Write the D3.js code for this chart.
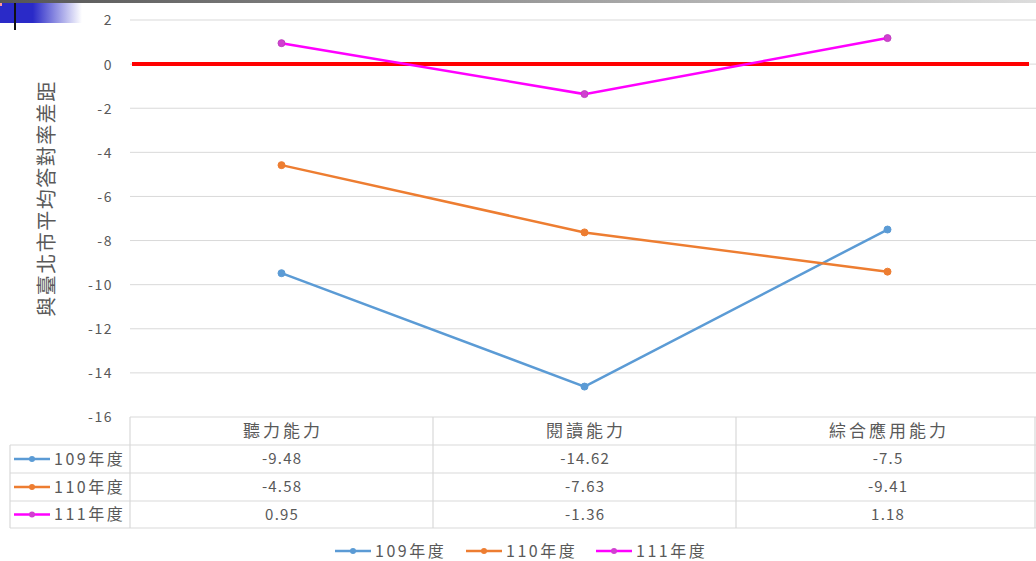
<!DOCTYPE html>
<html><head><meta charset="utf-8">
<script src="https://cdn.jsdelivr.net/npm/d3@7"></script>
<style>
body{margin:0;background:#fff;}
svg text{font-family:"Noto Sans CJK TC","Noto Sans",sans-serif;fill:#595959;}
</style></head>
<body><svg id="c" width="1036" height="561"></svg>
<script>
const categories = ["聽力能力","閱讀能力","綜合應用能力"];
const seriesNames = ["109年度","110年度","111年度"];
const s109 = [-9.48,-14.62,-7.5];
const s110 = [-4.58,-7.63,-9.41];
const s111 = [0.95,-1.36,1.18];
const yTicks = [2,0,-2,-4,-6,-8,-10,-12,-14,-16];
const colors = ["#5b9bd5","#ed7d31","#ff00ff"];
const yTitle = "與臺北市平均答對率差距";

const svg = d3.select("#c");
const series = [s109,s110,s111];

// top decoration
const defs = svg.append("defs");
const g1 = defs.append("linearGradient").attr("id","bg");
g1.append("stop").attr("offset","0").attr("stop-color","#2a2ac8");
g1.append("stop").attr("offset","0.4").attr("stop-color","#2a2ac8");
g1.append("stop").attr("offset","1").attr("stop-color","#ffffff");
const g2 = defs.append("linearGradient").attr("id","tg");
g2.append("stop").attr("offset","0").attr("stop-color","#555");
g2.append("stop").attr("offset","1").attr("stop-color","#ddd");
svg.append("rect").attr("x",0).attr("y",0).attr("width",1036).attr("height",3).attr("fill","url(#tg)");
svg.append("rect").attr("x",0).attr("y",3).attr("width",82).attr("height",20).attr("fill","url(#bg)");
svg.append("rect").attr("x",0).attr("y",3).attr("width",2).attr("height",3).attr("fill","#f99");
svg.append("rect").attr("x",14).attr("y",3).attr("width",2).attr("height",27).attr("fill","#111");

const left = 130, right = 1039;
const x = d3.scaleBand().domain(categories).range([left,right]);
const y = d3.scaleLinear().domain([-16,2]).range([417,20]);

// gridlines
svg.append("g").selectAll("line").data(yTicks.filter(t=>t!==-16)).join("line")
  .attr("x1",left).attr("x2",1036).attr("y1",d=>y(d)).attr("y2",d=>y(d))
  .attr("stroke","#d9d9d9").attr("stroke-width",1);

// y axis labels
const yAxis = d3.axisLeft(y).tickValues(yTicks).tickSize(0).tickPadding(0).tickFormat(d=>d);
const ya = svg.append("g").attr("transform","translate(113,0)").call(yAxis);
ya.select(".domain").remove();
ya.selectAll("text").attr("font-size",14).style("fill","#595959").style("letter-spacing","1.5px").attr("dy","0.35em");

// y title
svg.append("text").attr("transform",`translate(54,${(y(2)+y(-16))/2-20}) rotate(-90)`)
  .attr("text-anchor","middle").attr("font-size",20).style("letter-spacing","1.5px").text(yTitle);

// red zero line
svg.append("line").attr("x1",left+2).attr("x2",1029).attr("y1",y(0)).attr("y2",y(0))
  .attr("stroke","#ff0000").attr("stroke-width",4);

// lines
const line = d3.line().x((d,i)=>x(categories[i])+x.bandwidth()/2).y(d=>y(d));
series.forEach((s,k)=>{
  svg.append("path").datum(s).attr("d",line).attr("fill","none")
    .attr("stroke",colors[k]).attr("stroke-width",2.5);
  svg.append("g").selectAll("circle").data(s).join("circle")
    .attr("cx",(d,i)=>x(categories[i])+x.bandwidth()/2).attr("cy",d=>y(d)).attr("r",3.5)
    .attr("fill",k===2?"#d040d0":colors[k]).attr("stroke",k===2?"#c040c0":colors[k]).attr("stroke-width",1);
});

// table
const rowH = [417,445,473,501,528];
const tg = svg.append("g").attr("stroke","#d9d9d9").attr("stroke-width",1.2).attr("fill","none");
tg.append("line").attr("x1",left).attr("x2",right).attr("y1",rowH[0]).attr("y2",rowH[0]);
for(let i=1;i<rowH.length;i++) tg.append("line").attr("x1",10).attr("x2",right).attr("y1",rowH[i]).attr("y2",rowH[i]);
tg.append("line").attr("x1",10).attr("x2",10).attr("y1",rowH[1]).attr("y2",rowH[4]);
categories.forEach((c,i)=>{
  tg.append("line").attr("x1",x(c)).attr("x2",x(c)).attr("y1",rowH[0]).attr("y2",rowH[4]);
});
tg.append("line").attr("x1",right-4).attr("x2",right-4).attr("y1",rowH[0]).attr("y2",rowH[4]);

svg.append("g").selectAll("text").data(categories).join("text")
  .attr("x",d=>x(d)+x.bandwidth()/2+1.5).attr("y",(rowH[0]+rowH[1])/2).attr("dy","0.35em")
  .attr("text-anchor","middle").attr("font-size",17).style("letter-spacing","3px").text(d=>d);

series.forEach((s,k)=>{
  const cy = (rowH[k+1]+rowH[k+2])/2;
  svg.append("line").attr("x1",14).attr("x2",50).attr("y1",cy).attr("y2",cy).attr("stroke",colors[k]).attr("stroke-width",2.5);
  svg.append("circle").attr("cx",32).attr("cy",cy).attr("r",3).attr("fill",k===2?"#d040d0":colors[k]);
  svg.append("text").attr("x",54).attr("y",cy).attr("dy","0.35em").attr("font-size",16).style("letter-spacing","2.5px").text(seriesNames[k]);
  svg.append("g").selectAll("text").data(s).join("text")
    .attr("x",(d,i)=>x(categories[i])+x.bandwidth()/2+0.6).attr("y",cy).attr("dy","0.35em")
    .attr("text-anchor","middle").attr("font-size",15).style("letter-spacing","1.2px").text(d=>d);
});

// legend
const lx = [335,466,596];
seriesNames.forEach((n,k)=>{
  const cy = 551;
  svg.append("line").attr("x1",lx[k]).attr("x2",lx[k]+36).attr("y1",cy).attr("y2",cy).attr("stroke",colors[k]).attr("stroke-width",2.5);
  svg.append("circle").attr("cx",lx[k]+18).attr("cy",cy).attr("r",3).attr("fill",k===2?"#d040d0":colors[k]);
  svg.append("text").attr("x",lx[k]+40).attr("y",cy).attr("dy","0.35em").attr("font-size",16).style("letter-spacing","2.5px").text(n);
});
</script></body></html>
